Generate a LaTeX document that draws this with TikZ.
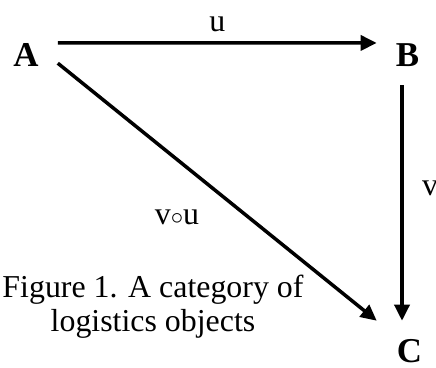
\documentclass[tikz,border=0pt]{standalone}
\usepackage{fontspec}
\setmainfont{Liberation Serif}
\usetikzlibrary{positioning, arrows.meta}

\begin{document}
\begin{tikzpicture}[
    x=1bp, y=-1bp,
    obj/.style={inner sep=0pt, anchor=base, font=\fontsize{35}{38}\selectfont\bfseries},
    lbl/.style={inner sep=0pt, anchor=base, font=\fontsize{32}{36}\selectfont},
    caption/.style={inner sep=0pt, anchor=base, align=center, font=\fontsize{32}{34}\selectfont},
    arrow/.style={-{Triangle[length=16bp, width=15bp]}, line width=3.5bp},
]
\useasboundingbox (0,0) rectangle (436,367);

% Objects
\node[obj] (A) at (26,66) {A};
\node[obj] (B) at (407.5,66) {B};
\node[obj] (C) at (409.5,362.5) {C};

% Morphisms
\draw[arrow, shorten <=19bp, shorten >=19bp] (A.north east) -- node[lbl, above=9bp] (u) {u} (B.north west);
\draw[arrow] ([shift={(-5.5,19)}]B.south) -- ([shift={(-7.5,-18.5)}]C.north);
\draw[arrow] ([shift={(19,-3)}]A.south east) -- ([shift={(-20,-18.5)}]C.north west);

% Labels
\node[lbl] (v) at (430,195) {v};
\node[lbl] (vu) at (177,224) {v$\circ$u};

% Caption
\node[caption] (cap) at (153,331) {Figure 1. A category of\\logistics objects};

\end{tikzpicture}
\end{document}
